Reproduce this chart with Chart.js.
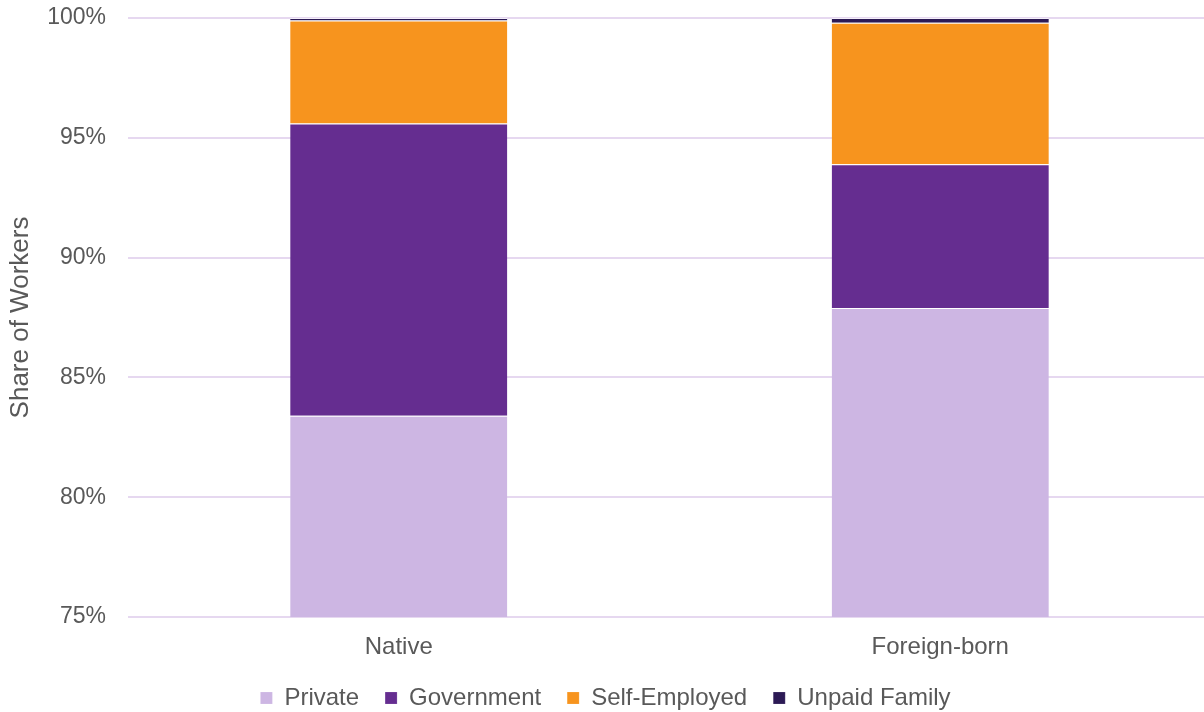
<!DOCTYPE html>
<html>
<head>
<meta charset="utf-8">
<script src="https://cdn.jsdelivr.net/npm/chart.js@4/dist/chart.umd.min.js"></script>
<style>
  html, body { margin: 0; padding: 0; background: #ffffff; overflow: hidden; }
  /* the plot runs a few pixels past the right edge of the page */
  #wrap { width: 1204px; height: 712px; overflow: hidden; }
</style>
</head>
<body>
<div id="wrap"><canvas id="myChart" width="1211" height="712"></canvas></div>
<script>
const groups = ["Native", "Foreign-born"];

// share of workers by class, in percent
const privateShare = [83.4, 87.9];
const governmentShare = [12.2, 6.0];
const selfEmployedShare = [4.3, 5.9];
const unpaidFamilyShare = [0.1, 0.2];

const yTicks = [75, 80, 85, 90, 95, 100];

const textColor = "#595959";
const gridColor = "#e6d8f0";
const fontFamily = "'Liberation Sans', Arial, sans-serif";

function bar(label, data, color) {
  return {
    label: label,
    data: data,
    backgroundColor: color,
    borderColor: "rgba(255,255,255,0.6)",
    borderWidth: { top: 1, bottom: 0, left: 0, right: 0 },
    borderSkipped: false,
    categoryPercentage: 1,
    barPercentage: 0.401,
  };
}

const ctx = document.getElementById("myChart");

new Chart(ctx, {
  type: "bar",
  data: {
    labels: groups,
    datasets: [
      bar("Private", privateShare, "#cdb6e3"),
      bar("Government", governmentShare, "#652d90"),
      bar("Self-Employed", selfEmployedShare, "#f7941e"),
      bar("Unpaid Family", unpaidFamilyShare, "#2c1a55"),
    ],
  },
  options: {
    responsive: false,
    animation: false,
    layout: { padding: { top: 18, right: 0, left: 0, bottom: -8 } },
    plugins: {
      tooltip: { enabled: false },
      legend: {
        position: "bottom",
        labels: {
          boxWidth: 12,
          boxHeight: 12,
          padding: 26,
          color: textColor,
          font: { family: fontFamily, size: 24 },
        },
      },
    },
    scales: {
      x: {
        stacked: true,
        grid: { display: false },
        border: { display: false },
        ticks: {
          color: textColor,
          padding: 8,
          font: { family: fontFamily, size: 24 },
        },
        afterFit: (scale) => {
          scale.height = 43;
          scale.paddingLeft = 0;
          scale.paddingRight = 0;
        },
      },
      y: {
        stacked: true,
        min: 75,
        max: 100,
        afterBuildTicks: (scale) => {
          scale.ticks = yTicks.map((v) => ({ value: v }));
        },
        afterFit: (scale) => {
          scale.width = 128;
          scale.paddingTop = 0;
          scale.paddingBottom = 0;
        },
        grid: { color: gridColor, lineWidth: 2, drawTicks: false },
        border: { display: false },
        ticks: {
          color: textColor,
          padding: 22,
          font: { family: fontFamily, size: 23 },
          callback: (v) => v + "%",
        },
        title: {
          display: true,
          text: "Share of Workers",
          color: textColor,
          padding: { top: 5, bottom: 0 },
          font: { family: fontFamily, size: 26 },
        },
      },
    },
  },
});
</script>
</body>
</html>
